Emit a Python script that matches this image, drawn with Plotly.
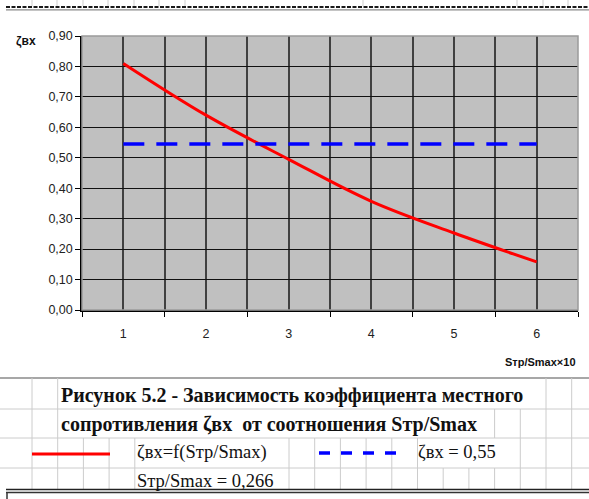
import plotly.graph_objects as go

# ---- data ----
x_ratio = [1, 2, 3, 4, 5, 6]
zeta_curve = [0.81, 0.64, 0.495, 0.357, 0.253, 0.158]
zeta_const = [0.545, 0.545, 0.545, 0.545, 0.545, 0.545]
y_ticks = [0.0, 0.1, 0.2, 0.3, 0.4, 0.5, 0.6, 0.7, 0.8, 0.9]
x_tick_labels = ["1", "2", "3", "4", "5", "6"]

caption1 = "Рисунок 5.2 - Зависимость коэффициента местного"
caption2 = "сопротивления ζвх  от соотношения Sтр/Smax"
legend1 = "ζвх=f(Sтр/Smax)"
legend2 = "ζвх = 0,55"
note = "Sтр/Smax = 0,266"

# ---- geometry helpers (pixel -> paper) ----
L, R, T, B = 82, 578, 36, 310
W, H = R - L, B - T


def px(p):
    return (p - L) / W


def py(p):
    return (B - p) / H


fig = go.Figure()
fig.add_trace(go.Scatter(x=x_ratio, y=zeta_curve, mode="lines",
                         line=dict(color="#FF0000", width=3, shape="spline", smoothing=1.0),
                         showlegend=False, hoverinfo="skip"))
fig.add_trace(go.Scatter(x=x_ratio, y=zeta_const, mode="lines",
                         line=dict(color="#0000FF", width=3.5, dash="21px,12px"),
                         showlegend=False, hoverinfo="skip"))

shapes = []
# plot border (top/right grey)
shapes.append(dict(type="rect", xref="paper", yref="paper", x0=0, x1=1, y0=0, y1=1,
                   line=dict(color="#9a9a9a", width=1.5), layer="above"))

# spreadsheet top double line and column ticks
shapes.append(dict(type="line", xref="paper", yref="paper", x0=px(6), x1=px(589),
                   y0=py(7), y1=py(7), line=dict(color="#1a1a1a", width=2.2, dash="4px,1.5px")))
shapes.append(dict(type="line", xref="paper", yref="paper", x0=px(6), x1=px(589),
                   y0=py(9.8), y1=py(9.8), line=dict(color="#8a8a8a", width=1.3)))
for c in [32, 57, 83, 108, 134, 159, 185, 363, 517, 543, 568]:
    shapes.append(dict(type="line", xref="paper", yref="paper", x0=px(c), x1=px(c),
                       y0=py(0), y1=py(6), line=dict(color="#cfcfcf", width=1)))

# spreadsheet lower area
cols = [32 + 25.7 * k for k in range(22)]
row_lines = [378, 409, 438, 468]
shapes.append(dict(type="line", xref="paper", yref="paper", x0=px(0), x1=px(589),
                   y0=py(378), y1=py(378), line=dict(color="#8a8a8a", width=1.5)))
for r in row_lines[1:]:
    shapes.append(dict(type="line", xref="paper", yref="paper", x0=px(0), x1=px(589),
                       y0=py(r), y1=py(r), line=dict(color="#cccccc", width=1)))


def vis(c, lst):
    return any(abs(c - v) < 4 for v in lst)


row_vis = [
    (378, 409, [32, 57, 543, 569]),
    (409, 438, [32, 57, 492, 518, 543, 569]),
    (438, 468, [32, 57, 83, 108, 133, 287, 313, 338, 364, 389, 415, 518, 543, 569]),
    (468, 490, [32, 57, 83, 108, 133, 287, 313, 338, 364, 389, 415, 441, 467, 492, 518, 543, 569]),
]
for (y0, y1, lst) in row_vis:
    for c in cols:
        if vis(c, lst):
            shapes.append(dict(type="line", xref="paper", yref="paper", x0=px(c), x1=px(c),
                               y0=py(y0), y1=py(y1), line=dict(color="#cccccc", width=1)))

# bottom double line
shapes.append(dict(type="line", xref="paper", yref="paper", x0=px(6), x1=px(589),
                   y0=py(489.5), y1=py(489.5), line=dict(color="#222", width=1.5)))
shapes.append(dict(type="line", xref="paper", yref="paper", x0=px(6), x1=px(589),
                   y0=py(492.5), y1=py(492.5), line=dict(color="#333", width=1.5)))
shapes.append(dict(type="line", xref="paper", yref="paper", x0=px(7), x1=px(7),
                   y0=py(492.5), y1=py(499), line=dict(color="#333", width=1.5)))

# legend samples
shapes.append(dict(type="line", xref="paper", yref="paper", x0=px(32), x1=px(110),
                   y0=py(454), y1=py(454), line=dict(color="#FF0000", width=3)))
shapes.append(dict(type="line", xref="paper", yref="paper", x0=px(319), x1=px(397),
                   y0=py(453), y1=py(453), line=dict(color="#0000FF", width=3.5, dash="11px,11px")))

annotations = [
    dict(text="<b>ζвх</b>", x=px(14), y=py(41), xref="paper", yref="paper",
         xanchor="left", yanchor="middle", showarrow=False,
         font=dict(family="Liberation Sans", size=12, color="#111")),
    dict(text="<b>Sтр/Smax×10</b>", x=px(578), y=py(362), xref="paper", yref="paper",
         xanchor="right", yanchor="middle", showarrow=False,
         font=dict(family="Liberation Sans", size=11, color="#111")),
    dict(text="<b>" + caption1 + "</b>", x=px(59), y=py(395), xref="paper", yref="paper",
         xanchor="left", yanchor="middle", showarrow=False,
         font=dict(family="Liberation Serif", size=20, color="#111")),
    dict(text="<b>" + caption2 + "</b>", x=px(59), y=py(424), xref="paper", yref="paper",
         xanchor="left", yanchor="middle", showarrow=False,
         font=dict(family="Liberation Serif", size=20, color="#111")),
    dict(text=legend1, x=px(135), y=py(452), xref="paper", yref="paper",
         xanchor="left", yanchor="middle", showarrow=False,
         font=dict(family="Liberation Serif", size=18.5, color="#111")),
    dict(text=legend2, x=px(416), y=py(452), xref="paper", yref="paper",
         xanchor="left", yanchor="middle", showarrow=False,
         font=dict(family="Liberation Serif", size=18.5, color="#111")),
    dict(text=note, x=px(135), y=py(481), xref="paper", yref="paper",
         xanchor="left", yanchor="middle", showarrow=False,
         font=dict(family="Liberation Serif", size=18.5, color="#111")),
]

fig.update_layout(
    width=589, height=499,
    margin=dict(l=L, r=589 - R, t=T, b=499 - B),
    paper_bgcolor="white", plot_bgcolor="#C0C0C0",
    separators=", ",
    shapes=shapes, annotations=annotations,
    font=dict(family="Liberation Sans", size=12.5, color="#222"),
)
fig.update_xaxes(
    range=[0.5, 6.5], tickvals=x_ratio, ticktext=x_tick_labels,
    ticks="outside", ticklen=5, tickcolor="rgba(0,0,0,0)", ticklabelstandoff=6,
    showgrid=True, gridcolor="#404040", gridwidth=1.5,
    minor=dict(tickvals=[0.5, 1.5, 2.5, 3.5, 4.5, 5.5, 6.5], ticks="outside", ticklen=5,
               tickcolor="#000", showgrid=True, gridcolor="#404040", gridwidth=1.5),
    showline=True, linecolor="#000", linewidth=1.5, zeroline=False, fixedrange=True,
)
fig.update_yaxes(
    range=[0, 0.9], tickvals=y_ticks, tickformat=".2f",
    ticks="outside", ticklen=5, tickcolor="#000",
    showgrid=True, gridcolor="#111", gridwidth=1.3,
    showline=True, linecolor="#000", linewidth=1.5, zeroline=False, fixedrange=True,
)

fig.write_html("out.html", config={"displayModeBar": False},
               post_script="document.body.style.margin='0px';")
